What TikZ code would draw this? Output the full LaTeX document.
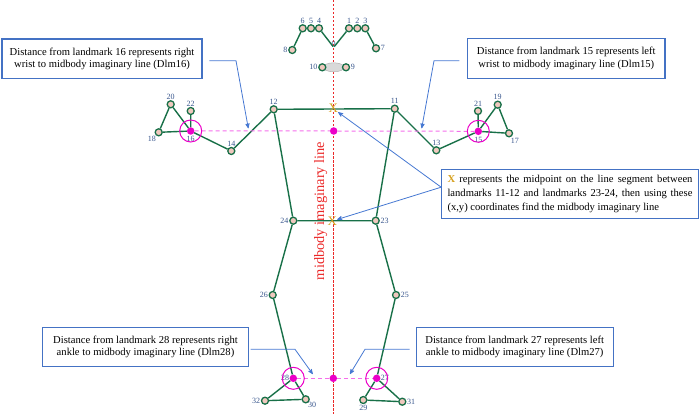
\documentclass[tikz,border=0pt]{standalone}
\usepackage{fontspec}
\setmainfont{Liberation Serif}
\usetikzlibrary{arrows}
\definecolor{jointgreen}{RGB}{24,112,72}
\definecolor{jointfill}{RGB}{240,200,190}
\definecolor{keymag}{RGB}{235,0,200}
\definecolor{dashmag}{RGB}{245,110,235}
\definecolor{lblblue}{RGB}{55,85,140}
\definecolor{boxblue}{RGB}{68,114,196}
\definecolor{calloutblue}{RGB}{70,120,210}
\definecolor{midred}{RGB}{235,40,40}
\definecolor{xgold}{RGB}{214,160,30}

\begin{document}
\begin{tikzpicture}[x=1pt,y=-1pt,>=stealth',
  joint node/.style={circle,draw=jointgreen,fill=jointfill,line width=1.3pt,inner sep=0pt,minimum size=7pt},
  key node/.style={circle,fill=keymag,inner sep=0pt,minimum size=7.5pt},
  lbl/.style={font=\fontsize{8}{8}\selectfont,text=lblblue,inner sep=0.5pt},
  note box/.style={draw=boxblue,line width=1.1pt,fill=white,align=center,inner sep=0pt,
    font=\fontsize{10.6}{12.4}\selectfont},
  bone/.style={draw=jointgreen,line width=1.4pt},
  callout/.style={->,draw=calloutblue,line width=0.8pt},
  xmark/.style={text=xgold,inner sep=0pt,font=\fontsize{13}{13}\selectfont}]

  \useasboundingbox (0,0) rectangle (700,414);

  % midbody line, one dash at a time
  \foreach \y in {0,4,...,412}
    \fill[midred] (332.9,\y) rectangle (334.1,\y+2.5);
  \node[rotate=90,text=midred,inner sep=0pt,font=\fontsize{14.4}{14.4}\selectfont] (midtxt) at (320.7,211) {midbody imaginary line};

  % mouth
  \filldraw[fill=gray!30,draw=gray!60,line width=0.5pt] (333.7,67.3) ellipse (10.5 and 4.5);

  % skeleton joints
  \node[joint node] (6) at (302.7,28.3) [label={[lbl]above:6}] {};
  \node[joint node] (5) at (311,28.3) [label={[lbl]above:5}] {};
  \node[joint node] (4) at (319,28.3) [label={[lbl]above:4}] {};
  \node[inner sep=0pt] (0) at (333.7,47.3) [label={[lbl,label distance=-1pt]above:0}] {};
  \node[joint node] (1) at (349,28.3) [label={[lbl]above:1}] {};
  \node[joint node] (2) at (357.3,28.3) [label={[lbl]above:2}] {};
  \node[joint node] (3) at (365.3,28.3) [label={[lbl]above:3}] {};
  \node[joint node] (8) at (292.3,50) [label={[lbl]left:8}] {};
  \node[joint node] (7) at (376,48.3) [label={[lbl]right:7}] {};
  \node[joint node] (10) at (322.3,67.3) [label={[lbl]left:10}] {};
  \node[joint node] (9) at (346,67.3) [label={[lbl]right:9}] {};

  \node[joint node] (12) at (273.7,109.3) [label={[lbl]above:12}] {};
  \node[joint node] (11) at (394.7,108.7) [label={[lbl]above:11}] {};
  \node[joint node] (14) at (231.3,151) [label={[lbl]above:14}] {};
  \node[joint node] (13) at (436.3,150.3) [label={[lbl]above:13}] {};
  \node[key node] (16) at (190.7,131) [label={[lbl,label distance=1pt]below:16}] {};
  \node[key node] (15) at (478.3,131.3) [label={[lbl,label distance=1pt]below:15}] {};
  \node[joint node] (18) at (158.7,132.3) [label={[lbl]238:18}] {};
  \node[joint node] (20) at (170.7,104.3) [label={[lbl]above:20}] {};
  \node[joint node] (22) at (190.7,111) [label={[lbl]above:22}] {};
  \node[joint node] (17) at (509,133.3) [label={[lbl]285:17}] {};
  \node[joint node] (19) at (497.7,104.7) [label={[lbl]above:19}] {};
  \node[joint node] (21) at (478,111) [label={[lbl]above:21}] {};

  \node[joint node] (24) at (293.3,220.7) [label={[lbl]left:24}] {};
  \node[joint node] (23) at (375.7,220.7) [label={[lbl]right:23}] {};
  \node[joint node] (26) at (272.7,295) [label={[lbl]left:26}] {};
  \node[joint node] (25) at (396,295) [label={[lbl]right:25}] {};
  \node[key node] (28) at (293.3,378.3) [label={[lbl,label distance=-0.5pt]left:28}] {};
  \node[key node] (27) at (376.7,378.3) [label={[lbl,label distance=-0.5pt]right:27}] {};
  \node[joint node] (32) at (265,400.7) [label={[lbl]left:32}] {};
  \node[joint node] (30) at (305.7,399.3) [label={[lbl,label distance=-1pt]305:30}] {};
  \node[joint node] (29) at (363.3,400) [label={[lbl]below:29}] {};
  \node[joint node] (31) at (402.3,401.7) [label={[lbl]right:31}] {};

  % skeleton
  \draw[bone] (8) -- (6) -- (5) -- (4) -- (0) -- (1) -- (2) -- (3) -- (7);
  \draw[bone] (16) -- (14) -- (12) -- (11) -- (13) -- (15);
  \draw[bone] (16) -- (18) -- (20) -- (16) -- (22);
  \draw[bone] (15) -- (17) -- (19) -- (15) -- (21);
  \draw[bone] (12) -- (24) -- (23) -- (11);
  \draw[bone] (24) -- (26) -- (28) -- (32) -- (30) -- (28);
  \draw[bone] (23) -- (25) -- (27) -- (29) -- (31) -- (27);

  % distances to the midbody line
  \node[key node] (mid) at (333.7,131) {};
  \node[key node] (midlow) at (333.3,378.3) {};
  \draw[dashmag,line width=1pt,dash pattern=on 4pt off 3pt] (16) -- (mid) -- (15);
  \draw[dashmag,line width=1pt,dash pattern=on 4pt off 3pt] (28) -- (midlow) -- (27);
  \foreach \k in {16,15,28,27}
    \draw[keymag,line width=1pt] (\k) circle (11);

  \node[xmark] (xu) at (333.3,108.7) {X};
  \node[xmark] (xl) at (332.3,221) {X};

  % notes
  \node[note box,minimum width=200pt,minimum height=39.3pt] (b16) at (102,58.7)
    {Distance from landmark 16 represents right\\wrist to midbody imaginary line (Dlm16)};
  \node[note box,minimum width=197.3pt,minimum height=40pt] (b15) at (566.3,58.3)
    {Distance from landmark 15 represents left\\wrist to midbody imaginary line (Dlm15)};
  \node[note box,minimum width=256.6pt,minimum height=49.3pt,text width=245pt,align=justify,
    font=\fontsize{10.6}{14.2}\selectfont] (bx) at (570,193.7)
    {\textcolor{xgold}{\textbf{X}} represents the midpoint on the line segment between\linebreak
     landmarks 11-12 and landmarks 23-24, then using these\linebreak
     (x,y) coordinates find the midbody imaginary line};
  \node[note box,minimum width=205.6pt,minimum height=39.4pt] (b28) at (145.5,347)
    {Distance from landmark 28 represents right\\ankle to midbody imaginary line (Dlm28)};
  \node[note box,minimum width=197.3pt,minimum height=39.4pt] (b27) at (514.7,347)
    {Distance from landmark 27 represents left\\ankle to midbody imaginary line (Dlm27)};

  % callouts
  \coordinate (s16) at ([xshift=6.7pt,yshift=-2pt]b16.east);
  \coordinate (k16) at (236,60.7);
  \coordinate (t16) at (248.3,128.3);
  \coordinate (s15) at ([xshift=-7.7pt,yshift=-2.4pt]b15.west);
  \coordinate (k15) at (434,60.7);
  \coordinate (t15) at (421.7,128.3);
  \coordinate (s28) at ([xshift=1.7pt,yshift=-2.3pt]b28.east);
  \coordinate (k28) at (295,349.3);
  \coordinate (t28) at (312.7,374);
  \coordinate (s27) at ([xshift=-6pt,yshift=-2.3pt]b27.west);
  \coordinate (k27) at (365,349.3);
  \coordinate (t27) at (350,374);
  \draw[callout] (s16) -- (k16) -- (t16);
  \draw[callout] (s15) -- (k15) -- (t15);
  \draw[callout] (s28) -- (k28) -- (t28);
  \draw[callout] (s27) -- (k27) -- (t27);
  \draw[callout] ([yshift=6.5pt]bx.west) -- (xu);
  \draw[callout] ([yshift=6.5pt]bx.west) -- (xl);
\end{tikzpicture}
\end{document}
